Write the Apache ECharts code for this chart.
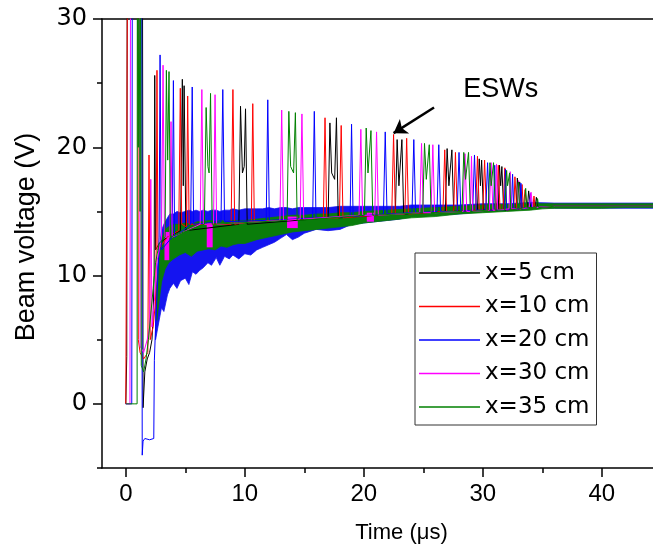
<!DOCTYPE html>
<html><head><meta charset="utf-8">
<script src="https://cdn.jsdelivr.net/npm/echarts@6/dist/echarts.min.js"></script>
<style>html,body{margin:0;padding:0;background:#fff}#c{width:653px;height:554px}</style>
</head><body><div id="c"></div>
<script>
// ---------- data ----------
const seriesNames = ['x=5 cm','x=10 cm','x=20 cm','x=30 cm','x=35 cm'];
const xMajorTicks = [0,10,20,30,40];
const xMinorTicks = [5,15,25,35];
const yMajorTicks = [0,10,20,30];
const yMinorTicks = [-5,5,15,25];

// [time (us), voltage (V)]
const trace5cm = [
[0,0],[0.05,0],[0.08,3.7],[0.12,36],[1.4,36],[1.45,-0.3],[1.6,2.5],[1.8,3.5],[2.0,4.0],[2.2,5.0],[2.3,7.0],[2.38,10.0],[2.43,25.6],[2.5,12.0],[2.8,12.5],[3.5,13.0],
[4.6,13.5],[4.75,25.3],[4.83,17.0],[4.9,24.8],[5.05,13.5],
[9.5,14.0],[9.64,23.2],[9.8,18.0],[9.95,18.5],[10.06,23.0],[10.2,14.0],
[17.0,14.5],[17.15,21.9],[17.3,18.0],[17.55,17.5],[17.7,22.3],[17.85,14.5],
[22.65,14.8],[22.8,20.6],[22.95,17.0],[23.05,17.0],[23.2,20.6],[23.35,14.8],
[26.85,15.0],[27.0,19.9],[27.15,17.0],[27.25,17.0],[27.4,19.8],[27.55,15.0],
[29.55,15.1],[29.7,19.1],[29.8,17.0],[29.9,19.0],[30.05,15.1],
[31.3,15.1],[31.4,18.6],[31.5,17.0],[31.6,18.5],[31.75,15.1],
[32.8,15.2],[32.9,17.6],[33.0,16.5],[33.1,17.3],[33.25,15.2],
[33.75,15.3],[33.85,16.6],[34.0,15.4],[34.4,15.3],[34.5,16.1],[34.65,15.3],
[36,15.4],[44.5,15.4]
];
const trace10cm = [
[0,0],[0.12,0],[0.15,36],[1.0,36],[1.05,5.0],[1.2,4.0],[1.5,3.5],[1.85,4.0],[1.95,19.4],[2.05,5.0],[2.3,6.0],[2.5,8.0],[2.55,12.0],[2.62,26.0],[2.7,12.0],[3.5,13.0],
[4.45,13.5],[4.58,24.6],[4.7,14.0],[5.1,13.8],[5.2,24.0],[5.32,14.0],
[8.85,14.0],[9.0,24.5],[9.15,14.0],
[10.55,14.2],[10.67,23.4],[10.8,14.2],
[16.6,14.5],[16.74,22.3],[16.88,14.5],
[17.95,14.5],[18.1,21.7],[18.25,14.5],
[22.35,14.8],[22.5,21.0],[22.65,14.8],
[23.45,14.8],[23.6,20.7],[23.75,14.8],
[26.65,15.0],[26.8,19.8],[26.95,15.0],
[27.55,15.0],[27.7,19.6],[27.85,15.0],
[29.4,15.1],[29.55,19.3],[29.7,15.1],
[30.0,15.1],[30.15,19.0],[30.3,15.1],
[31.15,15.1],[31.3,18.6],[31.45,15.1],
[31.7,15.1],[31.85,18.4],[32.0,15.1],
[32.6,15.2],[32.7,17.7],[32.85,15.2],
[33.2,15.2],[33.3,17.1],[33.4,15.2],
[33.45,15.2],[33.55,16.7],[33.7,15.3],
[34.2,15.3],[34.3,16.2],[34.4,15.3],
[36,15.4],[44.5,15.4]
];
const trace20cm = [
[0,0],[0.5,0],[0.55,36],[1.33,36],[1.38,-4.0],[1.45,-2.9],[1.6,-2.7],[2.0,-2.8],[2.35,-2.7],[2.4,3.4],[2.5,6.0],[2.7,10.0],[2.8,13.0],[2.88,27.2],[2.98,12.0],
[3.9,13.0],[4.0,25.2],[4.1,13.0],
[5.45,14.0],[5.58,24.7],[5.7,14.0],
[8.0,14.2],[8.15,24.5],[8.3,14.2],
[11.8,14.3],[11.93,23.7],[12.06,14.3],
[15.7,14.5],[15.84,22.8],[15.98,14.5],
[18.85,14.6],[18.97,21.8],[19.1,14.6],
[21.65,14.8],[21.8,21.2],[21.95,14.8],
[24.05,14.9],[24.2,20.6],[24.35,14.9],
[26.15,15.0],[26.3,20.2],[26.45,15.0],
[27.85,15.0],[28.0,19.6],[28.15,15.0],
[29.15,15.1],[29.3,19.4],[29.45,15.1],
[30.25,15.1],[30.4,18.8],[30.55,15.1],
[30.9,15.1],[31.0,18.6],[31.1,15.1],
[31.8,15.1],[31.9,18.3],[32.0,15.1],
[32.4,15.2],[32.5,17.9],[32.6,15.2],
[33.1,15.2],[33.2,17.2],[33.3,15.2],
[33.9,15.3],[34.0,16.4],[34.1,15.3],
[36,15.4],[44.5,15.4]
];
const trace30cm = [
[0,0],[0.35,0],[0.4,36],[1.15,36],[1.2,4.5],[1.5,4.0],[1.8,5.0],[2.0,6.0],[2.1,17.5],[2.2,6.0],[2.4,8.0],[2.6,11.0],[3.0,13.0],[3.13,26.4],[3.25,13.0],
[3.7,13.0],[3.8,22.0],[3.9,13.0],
[6.25,14.0],[6.39,24.5],[6.52,14.0],
[7.37,14.0],[7.5,24.1],[7.63,14.0],
[12.95,14.3],[13.1,22.9],[13.25,14.3],
[14.65,14.4],[14.8,22.6],[14.95,14.4],
[19.6,14.7],[19.75,21.4],[19.9,14.7],
[20.92,14.7],[21.07,21.2],[21.22,14.7],
[24.7,14.9],[24.85,20.3],[25.0,14.9],
[25.65,14.9],[25.8,20.2],[25.95,14.9],
[28.35,15.0],[28.5,19.5],[28.65,15.0],
[28.95,15.0],[29.05,19.3],[29.15,15.0],
[30.55,15.1],[30.7,18.8],[30.85,15.1],
[31.05,15.1],[31.15,18.7],[31.25,15.1],
[32.2,15.2],[32.3,18.1],[32.4,15.2],
[32.9,15.2],[33.0,17.4],[33.1,15.2],
[33.9,15.3],[34.05,16.5],[34.2,15.3],
[36,15.4],[44.5,15.4]
];
const trace35cm = [
[0,0],[0.7,0],[0.95,0],[0.97,36],[1.0,36],[1.05,20.0],[1.1,36],[1.15,36],[1.2,15.0],[1.25,36],[1.3,3.0],[1.5,2.5],[1.7,3.5],[1.9,5.0],[2.1,7.0],[2.3,9.0],[2.5,11.0],[2.8,12.5],[3.3,13.0],[3.41,26.0],[3.52,19.0],[3.63,25.9],[3.75,13.0],
[6.6,14.0],[6.75,23.1],[6.9,18.5],[7.0,18.0],[7.12,24.2],[7.26,14.0],
[13.55,14.3],[13.7,22.8],[13.85,18.5],[14.1,18.0],[14.25,22.7],[14.4,14.3],
[20.05,14.7],[20.2,21.5],[20.35,18.0],[20.45,18.0],[20.6,21.3],[20.75,14.7],
[24.95,14.9],[25.1,20.3],[25.25,17.5],[25.35,17.5],[25.5,20.2],[25.65,14.9],
[28.25,15.0],[28.4,19.6],[28.55,17.5],[28.65,17.5],[28.8,19.6],[28.95,15.0],
[30.45,15.1],[30.6,18.8],[30.7,17.0],[30.8,17.0],[30.9,18.8],[31.05,15.1],
[31.85,15.1],[32.0,18.2],[32.08,17.0],[32.15,17.0],[32.25,18.0],[32.35,15.1],
[32.9,15.2],[33.0,17.3],[33.1,15.2],
[33.5,15.3],[33.6,16.8],[33.7,15.3],
[34.5,15.3],[34.6,16.0],[34.7,15.3],
[36,15.4],[44.5,15.4]
];
const traces = [trace5cm, trace10cm, trace20cm, trace30cm, trace35cm];

// noise envelopes (min / max of the noisy baseline)
const blueBandT    = [2.5,2.7,3.0,3.2,3.5,3.7,4.0,4.3,4.6,5.0,5.3,5.6,5.9,6.2,6.5,6.9,7.2,7.6,7.9,8.3,8.7,9.0,9.5,10.0,10.5,11.0,11.5,12.0,12.5,13.0,13.5,14.0,14.5,15.0,16.0,17.0,18.0,19.0,20.0,21.0,22.0,23.0,24.0,26.0,28.0,30.0,32.0,34.0,36.0,40.0,44.5];
const blueBandLow  = [5.0,6.0,7.5,7.2,8.5,9.0,9.4,9.0,9.6,9.8,9.3,10.3,10.1,10.4,10.6,11.0,10.8,11.4,10.8,11.5,11.3,11.6,11.3,11.7,11.6,12.0,12.2,12.4,12.6,12.9,13.2,12.8,13.0,13.3,13.6,13.5,13.6,14.0,14.1,14.2,14.3,14.4,14.6,14.7,14.8,15.0,15.1,15.3,15.25,15.25,15.25];
const blueBandHigh = [8.0,11.0,13.5,14.0,14.5,14.8,14.8,15.0,14.9,15.0,15.1,15.0,15.1,15.0,15.1,15.0,15.1,15.1,15.0,15.1,15.1,15.2,15.1,15.2,15.2,15.2,15.2,15.3,15.2,15.3,15.3,15.2,15.3,15.3,15.3,15.3,15.4,15.4,15.4,15.4,15.4,15.4,15.5,15.5,15.5,15.6,15.6,15.7,15.65,15.65,15.65];
const greenBandT    = [2.6,2.8,3.0,3.3,3.6,4.0,4.5,5.0,5.5,6.0,6.5,7.0,7.5,8.0,8.5,9.0,9.5,10.0,11.0,12.0,13.0,14.0,15.0,16.0,17.0,18.0,19.0,20.0,22.0,24.0,26.0,28.0,30.0,32.0,34.0,35.0,36.0,38.0,40.0,42.0,44.5];
const greenBandLow  = [6.5,8.0,9.5,10.5,11.0,11.3,11.6,11.8,11.5,11.9,12.0,12.1,12.0,12.3,12.2,12.4,12.5,12.5,12.8,13.0,13.2,13.4,13.5,13.6,13.7,13.8,13.9,14.1,14.3,14.5,14.6,14.8,14.9,15.0,15.1,15.2,15.25,15.25,15.25,15.3,15.3];
const greenBandHigh = [9.0,11.0,12.8,13.6,13.8,14.0,14.0,14.1,14.0,14.2,14.2,14.3,14.2,14.3,14.2,14.3,14.3,14.3,14.4,14.5,14.6,14.7,14.7,14.8,14.8,14.9,14.9,15.0,15.1,15.2,15.3,15.4,15.5,15.55,15.6,15.6,15.6,15.6,15.6,15.6,15.6];
// [t start, t end, V low, V high] of x=30 cm noise showing through
const magentaBlocks = [[3.25,3.65,11.2,13.4],[6.8,7.3,12.2,14.1],[13.55,14.45,13.7,14.6],[20.25,20.85,14.2,14.9]];

const arrowFrom = [25.9, 23.1];
const arrowTo = [22.5, 21.1];
const eswLabelPos = [31.5, 24.5];

// ---------- styles ----------
const colors = ['#000000','#ff0000','#0000ff','#ff00ff','#008000'];
const FONT = 'Liberation Sans, Arial, sans-serif';
const X_MIN = -2, X_MAX = 44.3, Y_MIN = -5, Y_MAX = 30;

const chart = echarts.init(document.getElementById('c'), null, {renderer:'canvas'});

const axisLine = {show:true, onZero:false, lineStyle:{color:'#000', width:1.5}};
const series = [];
traces.forEach((d, i) => {
  series.push({
    name: seriesNames[i], type:'line', data:d, xAxisIndex:0, yAxisIndex:0,
    symbol:'none', showSymbol:false, silent:true, clip:true,
    lineStyle:{color:colors[i], width:1}, itemStyle:{color:colors[i]},
    emphasis:{disabled:true}, animation:false
  });
});
function bandSeries(t, lo, hi, color) {
  const rows = t.map((x,k)=>[x, lo[k], hi[k]]);
  return {
    type:'custom', data:rows, silent:true, animation:false, clip:true,
    encode:{x:0, y:[1,2]},
    renderItem:function(params, api){
      if (params.dataIndex !== 0) return null;
      const pts = [];
      for (let k=0;k<rows.length;k++) pts.push(api.coord([rows[k][0], rows[k][2]]));
      for (let k=rows.length-1;k>=0;k--) pts.push(api.coord([rows[k][0], rows[k][1]]));
      return {type:'polygon', shape:{points:pts}, style:{fill:color, stroke:color, lineWidth:0.8}};
    }
  };
}
series.push(bandSeries(blueBandT, blueBandLow, blueBandHigh, '#1414f0'));
series.push(bandSeries(greenBandT, greenBandLow, greenBandHigh, '#0a7d0a'));
series.push({
  type:'custom', data:magentaBlocks, silent:true, animation:false, clip:true,
  encode:{x:[0,1], y:[2,3]},
  renderItem:function(params, api){
    const p0 = api.coord([api.value(0), api.value(3)]);
    const p1 = api.coord([api.value(1), api.value(2)]);
    return {type:'rect', shape:{x:p0[0], y:p0[1], width:p1[0]-p0[0], height:p1[1]-p0[1]}, style:{fill:'#ff00ff'}};
  }
});
series.push({
  type:'line', data:[], silent:true, animation:false,
  markLine:{silent:true, animation:false, symbol:['none','arrow'], symbolSize:13,
    lineStyle:{color:'#000', width:2.5, type:'solid'}, label:{show:false},
    emphasis:{disabled:true},
    data:[[{coord:arrowFrom},{coord:arrowTo}]]},
  markPoint:{silent:true, animation:false, symbol:'rect', symbolSize:1,
    itemStyle:{color:'rgba(0,0,0,0)'},
    label:{show:true, position:'inside', formatter:'ESWs', fontSize:27, color:'#000', fontFamily:FONT},
    data:[{coord:eswLabelPos}]}
});

const option = {
  animation:false,
  backgroundColor:'#fff',
  textStyle:{fontFamily:FONT},
  grid:{left:102, top:19, right:0, bottom:86, containLabel:false},
  legend:{
    data:seriesNames.map((n,i)=>({name:n, itemStyle:{color:colors[i]}})),
    orient:'vertical', left:415, top:253, selectedMode:false,
    backgroundColor:'#fff', borderColor:'#333', borderWidth:1,
    padding:[8,7,6,4], itemGap:9.5, itemWidth:61, itemHeight:1.4, icon:'rect',
    textStyle:{fontFamily:'DejaVu Sans, sans-serif', fontSize:23, color:'#000', lineHeight:24}
  },
  xAxis:[
    {type:'value', position:'bottom', min:X_MIN, max:X_MAX, axisLine:axisLine,
     axisTick:{show:true, customValues:xMajorTicks, length:9, inside:false, lineStyle:{color:'#000', width:1.5}},
     axisLabel:{customValues:xMajorTicks, fontSize:24, color:'#000', margin:14, fontFamily:FONT},
     splitLine:{show:false},
     name:'Time (μs)', nameLocation:'middle', nameGap:54,
     nameTextStyle:{fontSize:22, color:'#000', fontFamily:FONT, padding:[0,0,0,48]}},
    {type:'value', position:'bottom', min:X_MIN, max:X_MAX, axisLine:{show:false, onZero:false},
     axisTick:{show:true, customValues:xMinorTicks, length:5, lineStyle:{color:'#000', width:1.5}},
     axisLabel:{show:false}, splitLine:{show:false}},
    {type:'value', position:'top', min:X_MIN, max:X_MAX, axisLine:axisLine,
     axisTick:{show:false}, axisLabel:{show:false}, splitLine:{show:false}}
  ],
  yAxis:[
    {type:'value', position:'left', min:Y_MIN, max:Y_MAX, axisLine:axisLine,
     axisTick:{show:true, customValues:yMajorTicks, length:9, lineStyle:{color:'#000', width:1.5}},
     axisLabel:{customValues:yMajorTicks, fontSize:24, color:'#000', margin:15, fontFamily:'DejaVu Sans, sans-serif'},
     splitLine:{show:false},
     name:'Beam voltage (V)', nameLocation:'middle', nameGap:62, nameRotate:90,
     nameTextStyle:{fontSize:27, color:'#000', fontFamily:FONT, padding:[0,0,0,13]}},
    {type:'value', position:'left', min:Y_MIN, max:Y_MAX, axisLine:{show:false, onZero:false},
     axisTick:{show:true, customValues:yMinorTicks, length:5, lineStyle:{color:'#000', width:1.5}},
     axisLabel:{show:false}, splitLine:{show:false}}
  ],
  series:series
};
chart.setOption(option);
</script></body></html>
